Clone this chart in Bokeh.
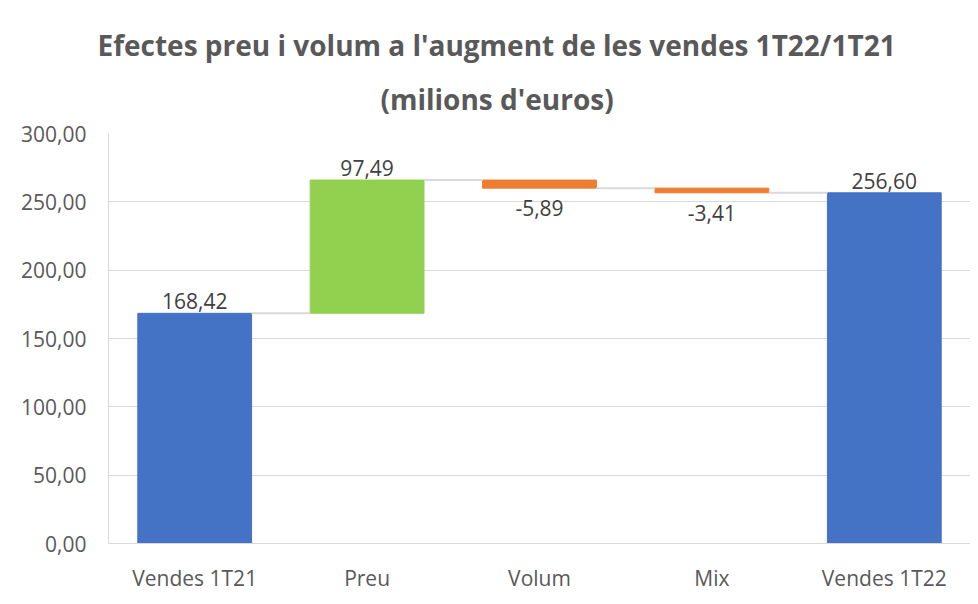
from bokeh.plotting import figure
from bokeh.models import ColumnDataSource, Title, CustomJSTickFormatter, FixedTicker, Range1d
from bokeh.transform import dodge
from bokeh.core.properties import value
from bokeh.embed import file_html
from bokeh.resources import INLINE

categories = ["Vendes 1T21", "Preu", "Volum", "Mix", "Vendes 1T22"]
values = [168.42, 97.49, -5.89, -3.41, 256.60]
kinds = ["total", "delta", "delta", "delta", "total"]
y_ticks = [0, 50, 100, 150, 200, 250, 300]
title_line1 = "Efectes preu i volum a l'augment de les vendes 1T22/1T21"
title_line2 = "(milions d'euros)"

BLUE = "#4472C4"
GREEN = "#92D050"
ORANGE = "#ED7D31"
FONT = "Open Sans"

# waterfall geometry derived from the values
bottoms, tops, colors, levels, running = [], [], [], [], 0.0
for v, k in zip(values, kinds):
    if k == "total":
        b, t = 0.0, v
        running = v
        colors.append(BLUE)
    else:
        b, t = running, running + v
        running += v
        colors.append(GREEN if v >= 0 else ORANGE)
    bottoms.append(min(b, t))
    tops.append(max(b, t))
    levels.append(running)

labels = [f"{v:.2f}".replace(".", ",") for v in values]
pos_idx = [i for i, v in enumerate(values) if v >= 0]
neg_idx = [i for i, v in enumerate(values) if v < 0]

bars = ColumnDataSource(dict(cat=categories, top=tops, bottom=bottoms, color=colors))
pos = ColumnDataSource(dict(cat=[categories[i] for i in pos_idx],
                            y=[tops[i] for i in pos_idx],
                            text=[labels[i] for i in pos_idx]))
neg = ColumnDataSource(dict(cat=[categories[i] for i in neg_idx],
                            y=[bottoms[i] for i in neg_idx],
                            text=[labels[i] for i in neg_idx]))
conn = ColumnDataSource(dict(c0=categories[:-1], c1=categories[1:], y=levels[:-1]))

p = figure(x_range=categories, y_range=Range1d(0, 300),
           width=970, height=596, output_backend="svg", toolbar_location=None,
           min_border_left=108, min_border_right=0, min_border_top=133, min_border_bottom=53)

title_style = dict(align="left", text_font=FONT, text_font_size="28px",
                   text_font_style="bold", text_color="#595959", text_line_height=1.0)
p.add_layout(Title(text=title_line2, standoff=32, offset=272, **title_style), "above")
p.add_layout(Title(text=title_line1, standoff=-5, offset=-11, **title_style), "above")

p.vbar(x="cat", top="top", bottom="bottom", width=0.66, color="color", source=bars)

p.segment(x0=dodge("c0", 0.33, range=p.x_range), x1=dodge("c1", -0.33, range=p.x_range),
          y0="y", y1="y", line_color="#D9D9D9", line_width=2, source=conn)

p.text(x="cat", y="y", text="text", source=pos, text_align="center", text_baseline="bottom",
       y_offset=-4, text_font=value(FONT), text_font_size="21px", text_color="#404040")
p.text(x="cat", y="y", text="text", source=neg, text_align="center", text_baseline="top",
       y_offset=12, text_font=value(FONT), text_font_size="21px", text_color="#404040")

p.yaxis.ticker = FixedTicker(ticks=y_ticks)
p.yaxis.formatter = CustomJSTickFormatter(code="return tick.toFixed(2).replace('.', ',');")
for ax in (p.xaxis[0], p.yaxis[0]):
    ax.major_tick_line_color = None
    ax.minor_tick_line_color = None
    ax.axis_line_color = "#D9D9D9"
    ax.major_label_text_font = FONT
    ax.major_label_text_font_size = "21px"
    ax.major_label_text_color = "#595959"
p.yaxis.major_label_standoff = 16
p.xaxis.major_label_standoff = 14

p.xgrid.grid_line_color = None
p.ygrid.grid_line_color = "#D9D9D9"
p.ygrid.ticker = FixedTicker(ticks=y_ticks)
p.outline_line_color = None
p.background_fill_color = "white"
p.border_fill_color = "white"

open("out.html", "w").write(file_html(p, INLINE))
